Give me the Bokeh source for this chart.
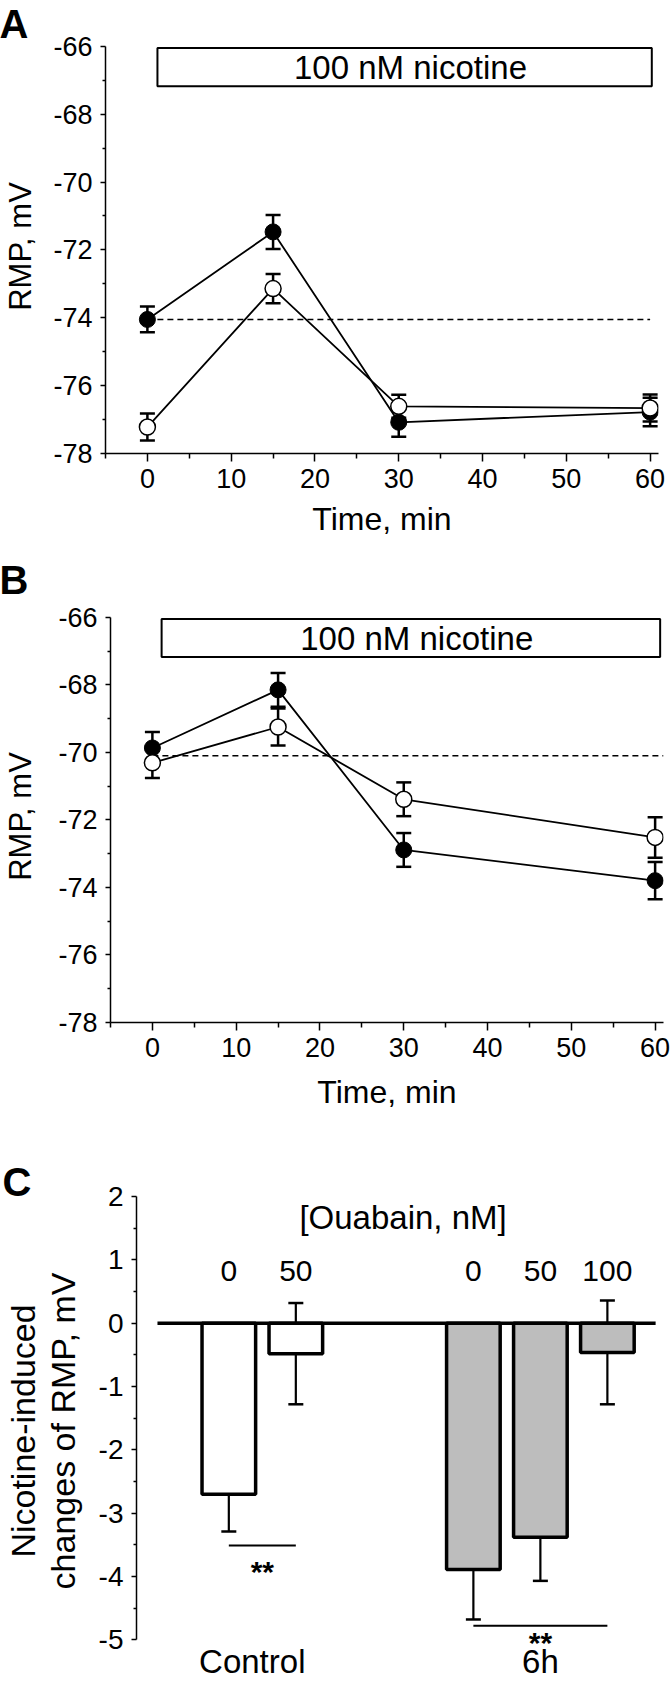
from bokeh.plotting import figure
from bokeh.layouts import column
from bokeh.models import (ColumnDataSource, Whisker, TeeHead, FixedTicker, Range1d,
                          CustomJSTickFormatter)
from bokeh.core.properties import value
from bokeh.embed import file_html
from bokeh.resources import INLINE

FONT = "Liberation Sans"

# ---------------- data ----------------
time_min = [0, 15, 30, 60]

a_filled = [-74.05, -71.47, -77.08, -76.78]
a_filled_err = [0.38, 0.50, 0.43, 0.42]
a_open = [-77.22, -73.14, -76.61, -76.66]
a_open_err = [0.40, 0.43, 0.34, 0.40]
a_baseline = -74.05

b_filled = [-69.87, -68.15, -72.89, -73.80]
b_filled_err = [0.47, 0.50, 0.50, 0.55]
b_open = [-70.31, -69.25, -71.39, -72.52]
b_open_err = [0.45, 0.55, 0.50, 0.60]
b_baseline = -70.10

nicotine_label = "100 nM nicotine"
a_nicotine_span = [1.2, 60.2]
b_nicotine_span = [1.1, 60.6]

y_ticks_rmp = [-78, -76, -74, -72, -70, -68, -66]
x_ticks_time = [0, 10, 20, 30, 40, 50, 60]

groups = ["Control", "6h"]
ouabain_control = ["0", "50"]
ouabain_6h = ["0", "50", "100"]
delta_control = [-2.70, -0.48]
delta_control_err = [0.59, 0.80]
delta_6h = [-3.89, -3.38, -0.46]
delta_6h_err = [0.79, 0.69, 0.82]
y_ticks_delta = [-5, -4, -3, -2, -1, 0, 1, 2]
significance = ["**", "**"]


def style_axes(p):
    for ax in p.axis:
        ax.axis_line_width = 1.5
        ax.major_tick_line_width = 1.5
        ax.minor_tick_line_width = 1.5
        ax.axis_line_color = "black"
        ax.major_tick_line_color = "black"
        ax.minor_tick_line_color = "black"
        ax.major_label_text_font = FONT
        ax.major_label_text_color = "black"
        ax.axis_label_text_font = FONT
        ax.axis_label_text_font_style = "normal"
        ax.axis_label_text_color = "black"
        ax.major_tick_in = 0
        ax.minor_tick_in = 0
        ax.formatter = CustomJSTickFormatter(code="return tick.toString();")
    p.grid.visible = False
    p.outline_line_color = None


def letter_title(p, letter, offset, standoff):
    p.title.text = letter
    p.title.text_font = FONT
    p.title.text_font_size = "40px"
    p.title.text_font_style = "bold"
    p.title.text_color = "black"
    p.title.align = "left"
    p.title.vertical_align = "bottom"
    p.title.offset = offset
    p.title.standoff = standoff


def time_panel(letter, filled, ferr, opn, oerr, base, span, height, b_left, b_right, b_top,
               b_bottom, label_standoff, xlabel_standoff, title_standoff, base_end):
    p = figure(width=671, height=height, x_range=Range1d(-5, 61), y_range=Range1d(-78, -65.8),
               output_backend="svg", toolbar_location=None,
               min_border_left=b_left, min_border_right=b_right,
               min_border_top=b_top, min_border_bottom=b_bottom)
    p.frame_align = False
    style_axes(p)
    letter_title(p, letter, -b_left - 6, title_standoff)
    p.yaxis.ticker = FixedTicker(ticks=y_ticks_rmp,
                                 minor_ticks=[t + 1 for t in y_ticks_rmp[:-1]])
    p.yaxis.bounds = (y_ticks_rmp[0], y_ticks_rmp[-1])
    p.yaxis.major_tick_out = 5
    p.yaxis.minor_tick_out = 3
    p.yaxis.major_label_standoff = 8
    p.yaxis.major_label_text_font_size = "27px"
    p.yaxis.axis_label = "RMP, mV"
    p.yaxis.axis_label_text_font_size = "31px"
    p.yaxis.axis_label_standoff = label_standoff
    p.xaxis.ticker = FixedTicker(ticks=x_ticks_time,
                                 minor_ticks=[t - 5 for t in x_ticks_time] + [55])
    p.xaxis.bounds = (-5, 61)
    p.xaxis.major_tick_out = 8
    p.xaxis.minor_tick_out = 5
    p.xaxis.major_label_standoff = 7
    p.xaxis.major_label_text_font_size = "27px"
    p.xaxis.axis_label = "Time, min"
    p.xaxis.axis_label_text_font_size = "32px"
    p.xaxis.axis_label_standoff = xlabel_standoff

    # nicotine application bar
    p.quad(left=[span[0]], right=[span[1]], top=[-66.05], bottom=[-67.18],
           fill_color="white", line_color="black", line_width=2)
    p.text(x=[(span[0] + span[1]) / 2 + 0.7], y=[-66.62], text=[nicotine_label],
           text_align="center", text_baseline="middle", text_font=value(FONT),
           text_font_size="33px", text_color="black")

    # baseline
    p.line(x=[time_min[0], base_end], y=[base, base], line_dash="6 4",
           line_width=1.5, line_color="black")

    for vals, errs in ((opn, oerr), (filled, ferr)):
        src = ColumnDataSource(dict(x=time_min, upper=[v + e for v, e in zip(vals, errs)],
                                    lower=[v - e for v, e in zip(vals, errs)]))
        p.add_layout(Whisker(source=src, base="x", upper="upper", lower="lower",
                             line_width=2.5, line_color="black",
                             upper_head=TeeHead(size=15, line_width=2.5, line_color="black"),
                             lower_head=TeeHead(size=15, line_width=2.5, line_color="black")))
    p.line(time_min, filled, line_width=1.8, line_color="black")
    p.line(time_min, opn, line_width=1.8, line_color="black")
    p.scatter(time_min, filled, marker="circle", size=16, fill_color="black",
              line_color="black")
    p.scatter(time_min, opn, marker="circle", size=16, fill_color="white",
              line_color="black", line_width=1.5)
    return p


pA = time_panel("A", a_filled, a_filled_err, a_open, a_open_err, a_baseline, a_nicotine_span,
                545, 100, 13, 39, 92, 12, 10, -12, time_min[-1])
pB = time_panel("B", b_filled, b_filled_err, b_open, b_open_err, b_baseline, b_nicotine_span,
                595, 105, 8, 65, 118, 17, 14, 18, 61)

# ---------------- panel C ----------------
group_start = [1.0, 4.65]
ctrl_x = [group_start[0] + i for i in range(len(delta_control))]
h6_x = [group_start[1] + i for i in range(len(delta_6h))]
all_x = ctrl_x + h6_x
all_v = delta_control + delta_6h
all_e = delta_control_err + delta_6h_err

pC = figure(width=671, height=541, x_range=Range1d(-0.378, 7.607),
            y_range=Range1d(-5.66, 2.256),
            output_backend="svg", toolbar_location=None, x_axis_location=None,
            min_border_left=128, min_border_right=0, min_border_top=40, min_border_bottom=0)
pC.frame_align = False
style_axes(pC)
letter_title(pC, "C", -128 - 6, -46)
pC.yaxis.ticker = FixedTicker(ticks=y_ticks_delta,
                              minor_ticks=[t + 0.5 for t in y_ticks_delta[:-1]])
pC.yaxis.bounds = (y_ticks_delta[0], y_ticks_delta[-1])
pC.yaxis.major_tick_out = 5
pC.yaxis.minor_tick_out = 3
pC.yaxis.major_label_standoff = 8
pC.yaxis.major_label_text_font_size = "28px"
pC.yaxis.axis_label = "Nicotine-induced\nchanges of RMP, mV"
pC.yaxis.axis_label_text_font_size = "34px"
pC.yaxis.axis_label_text_line_height = 1.05
pC.yaxis.axis_label_standoff = 14

wsrc = ColumnDataSource(dict(x=all_x, upper=[v + e for v, e in zip(all_v, all_e)],
                             lower=[v - e for v, e in zip(all_v, all_e)]))
pC.add_layout(Whisker(source=wsrc, base="x", upper="upper", lower="lower",
                      line_width=2.2, line_color="black",
                      upper_head=TeeHead(size=15, line_width=2.5, line_color="black"),
                      lower_head=TeeHead(size=15, line_width=2.5, line_color="black")))
pC.vbar(x=ctrl_x, top=delta_control, bottom=0, width=0.8, fill_color="white",
        line_color="black", line_width=3.5)
pC.vbar(x=h6_x, top=delta_6h, bottom=0, width=0.8, fill_color="#bdbdbd",
        line_color="black", line_width=3.5)
pC.line(x=[all_x[0] - 1.065, all_x[-1] + 0.72], y=[0, 0], line_width=3.5, line_color="black")

# significance bars
sig_pairs = [(ctrl_x[0], ctrl_x[1]), (h6_x[0], h6_x[2])]
sig_y = [-3.51, -4.78]
sig_star_y = [-3.88, -5.0]
pC.segment(x0=[a for a, b in sig_pairs], x1=[b for a, b in sig_pairs], y0=sig_y, y1=sig_y,
           line_width=2, line_color="black")
pC.text(x=[(a + b) / 2 for a, b in sig_pairs], y=[s - 0.04 for s in sig_star_y],
        text=significance, text_align="center", text_baseline="middle",
        text_font=value(FONT), text_font_size="30px", text_font_style="bold",
        text_color="black")

# ouabain labels
pC.text(x=all_x, y=[0.82] * len(all_x), text=ouabain_control + ouabain_6h, text_align="center",
        text_baseline="middle", text_font=value(FONT), text_font_size="30px", text_color="black")
pC.text(x=[3.6], y=[1.67], text=["[Ouabain, nM]"], text_align="center", text_baseline="middle",
        text_font=value(FONT), text_font_size="33px", text_color="black")
pC.text(x=[1.35, h6_x[1]], y=[-5.35, -5.35], text=groups, text_align="center",
        text_baseline="middle", text_font=value(FONT), text_font_size="33px",
        text_color="black")

layout = column(pA, pB, pC, spacing=0)
open("out.html", "w").write(file_html(layout, INLINE))
